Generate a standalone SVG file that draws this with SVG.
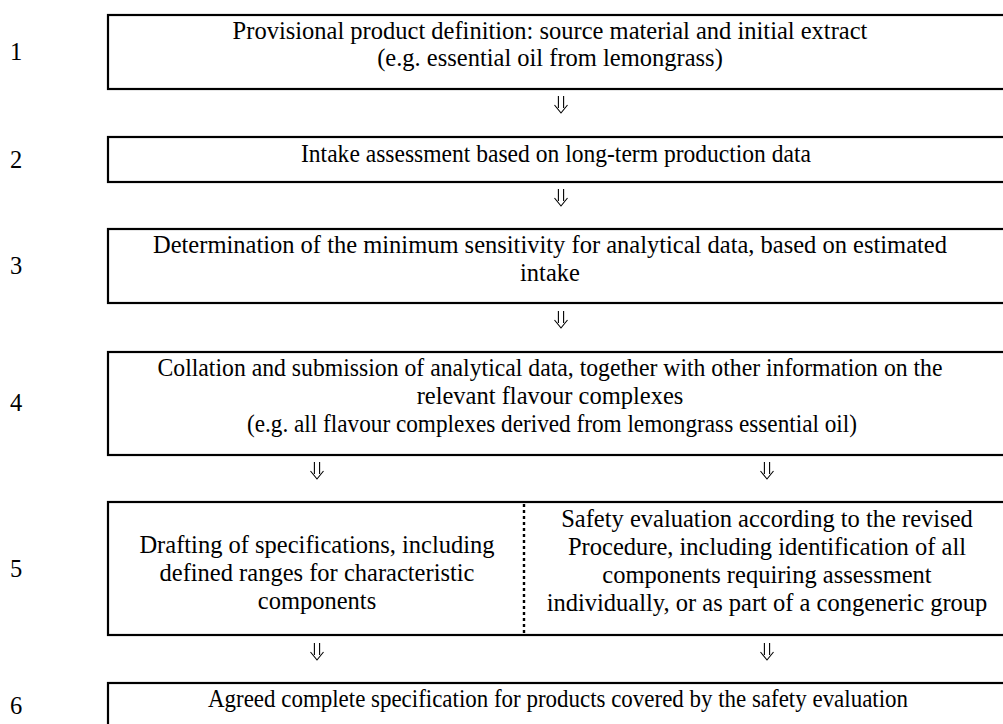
<svg xmlns="http://www.w3.org/2000/svg" width="1003" height="724" viewBox="0 0 1003 724">
<style>
.box{fill:#fff;stroke:#000;stroke-width:2.2}
.t{font-family:'Liberation Serif','Times New Roman',serif;font-size:24.5px;fill:#000;text-anchor:middle}
.n{font-family:'Liberation Serif','Times New Roman',serif;font-size:24.5px;fill:#000}
.arr{fill:none;stroke:#000;stroke-width:1.1}
.dot{stroke:#000;stroke-width:2.4;stroke-dasharray:3 3}
</style>
<defs>
<path id="dn" class="arr" d="M-2.6,0 V12 M2.6,0 V12 M-6.5,9 L0,17 L6.5,9"/>
</defs>
<rect width="1003" height="724" fill="#fff"/>
<g id="labels">
<text class="n" x="10" y="60">1</text>
<text class="n" x="10" y="168">2</text>
<text class="n" x="10" y="274">3</text>
<text class="n" x="10" y="411">4</text>
<text class="n" x="10" y="577">5</text>
<text class="n" x="10" y="714">6</text>
</g>
<g id="step1">
<rect class="box" x="108" y="15" width="920" height="74"/>
<text class="t" x="550" y="39">Provisional product definition: source material and initial extract</text>
<text class="t" x="550" y="66">(e.g. essential oil from lemongrass)</text>
</g>
<g id="step2">
<rect class="box" x="108" y="137" width="920" height="45"/>
<text class="t" x="556" y="162" textLength="510" lengthAdjust="spacingAndGlyphs">Intake assessment based on long-term production data</text>
</g>
<g id="step3">
<rect class="box" x="108" y="229" width="920" height="74"/>
<text class="t" x="550" y="253">Determination of the minimum sensitivity for analytical data, based on estimated</text>
<text class="t" x="550" y="281">intake</text>
</g>
<g id="step4">
<rect class="box" x="108" y="352" width="920" height="103"/>
<text class="t" x="550" y="376" textLength="785" lengthAdjust="spacingAndGlyphs">Collation and submission of analytical data, together with other information on the</text>
<text class="t" x="550" y="404">relevant flavour complexes</text>
<text class="t" x="552" y="432" textLength="610" lengthAdjust="spacingAndGlyphs">(e.g. all flavour complexes derived from lemongrass essential oil)</text>
</g>
<g id="step5">
<rect class="box" x="108" y="502" width="920" height="133"/>
<line class="dot" x1="524" y1="504" x2="524" y2="634"/>
<g id="step5a">
<text class="t" x="317" y="553">Drafting of specifications, including</text>
<text class="t" x="317" y="581">defined ranges for characteristic</text>
<text class="t" x="317" y="609">components</text>
</g>
<g id="step5b">
<text class="t" x="767" y="527">Safety evaluation according to the revised</text>
<text class="t" x="767" y="555">Procedure, including identification of all</text>
<text class="t" x="767" y="583">components requiring assessment</text>
<text class="t" x="767" y="611">individually, or as part of a congeneric group</text>
</g>
</g>
<g id="step6">
<rect class="box" x="108" y="683" width="920" height="60"/>
<text class="t" x="558" y="707" textLength="700" lengthAdjust="spacingAndGlyphs">Agreed complete specification for products covered by the safety evaluation</text>
</g>
<g id="connectors">
<use href="#dn" x="561" y="96"/>
<use href="#dn" x="561" y="189"/>
<use href="#dn" x="561" y="311"/>
<use href="#dn" x="317" y="462"/>
<use href="#dn" x="767" y="462"/>
<use href="#dn" x="317" y="643"/>
<use href="#dn" x="767" y="643"/>
</g>
</svg>
